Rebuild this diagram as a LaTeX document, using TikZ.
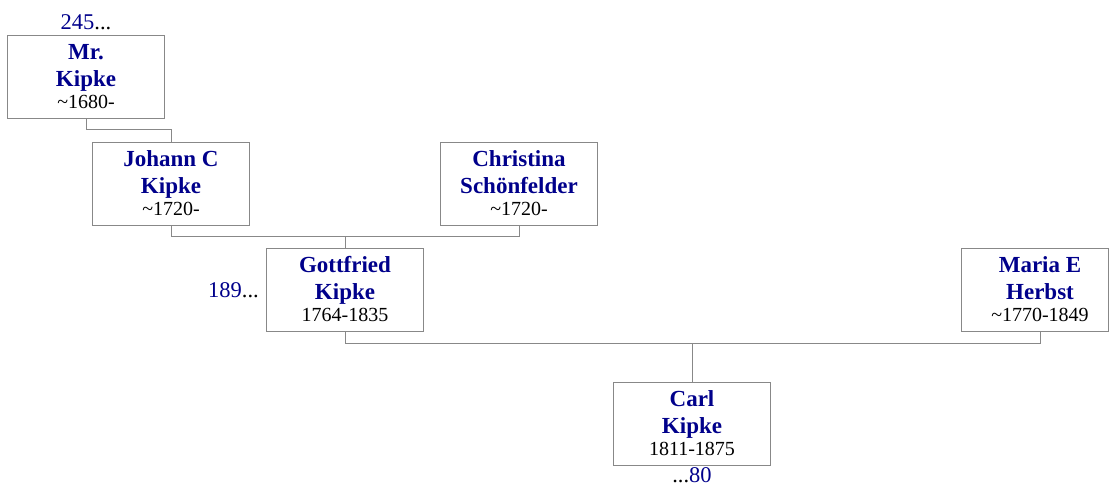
\documentclass[tikz,border=0pt]{standalone}
\usepackage{fontspec}
\setmainfont{Liberation Serif}
\usetikzlibrary{calc}
\definecolor{nameblue}{RGB}{0,0,139}
\definecolor{boxgray}{RGB}{136,136,136}
\tikzset{
  personbox/.style={draw=boxgray, line width=1pt, fill=white, minimum width=157pt, minimum height=83pt, inner sep=0pt},
  nameline/.style={anchor=base, inner sep=0pt, text=nameblue, font=\fontsize{23}{27}\selectfont\bfseries},
  dateline/.style={anchor=base, inner sep=0pt, text=black, font=\fontsize{20}{24}\selectfont},
  moreline/.style={anchor=base, inner sep=0pt, text=nameblue, font=\fontsize{22.5}{27}\selectfont},
  link/.style={draw=boxgray, line width=1pt}
}
\newcommand{\persontext}[5]{%
  \node[nameline] (#1-a) at ($(#2)+(0,-17.5)$) {#3};
  \node[nameline] (#1-b) at ($(#2)+(0,9.5)$) {#4};
  \node[dateline] (#1-c) at ($(#2)+(0,31.5)$) {#5};
}
\newcommand{\person}[5]{%
  \node[personbox] (#1) at (#2) {};
  \persontext{#1}{#1.center}{#3}{#4}{#5}
}
\begin{document}
\begin{tikzpicture}[x=1pt,y=-1pt]
\useasboundingbox (0,0) rectangle (1109,488);
\person{mr}{86,76.5}{Mr.}{Kipke}{\textasciitilde1680-}
\person{jo}{171,183.5}{Johann C}{Kipke}{\textasciitilde1720-}
\person{ch}{519,183.5}{Christina}{Sch\"onfelder}{\textasciitilde1720-}
\person{gf}{345,290}{Gottfried}{Kipke}{1764-1835}
\node[personbox, minimum width=147pt] (ma) at (1034.5,290) {};
\coordinate (ma-mid) at (1040,290);
\persontext{ma}{ma-mid}{Maria E}{Herbst}{\textasciitilde1770-1849}
\person{ca}{692,423.5}{Carl}{Kipke}{1811-1875}
\coordinate (m0) at ($(mr.south)+(0,11)$);
\coordinate (m1) at ($(jo.south)+(0,11)$);
\coordinate (m2) at ($(gf.south)+(0,11)$);
\draw[link] (mr.south) -- (m0) -| (jo.north);
\draw[link] (jo.south) -- (m1) -| (ch.south);
\draw[link] (gf.north) -- (gf.north |- m1);
\draw[link] (gf.south) -- (m2) -| (ma-mid |- ma.south);
\draw[link] (ca.north) -- (ca.north |- m2);
\node[moreline] (mr-more) at (86,29) {245{\color{black}...}};
\node[moreline, anchor=base east] (gf-more) at (259,297) {189{\color{black}...}};
\node[moreline] (ca-more) at (692,482) {{\color{black}...}80};
\end{tikzpicture}
\end{document}
